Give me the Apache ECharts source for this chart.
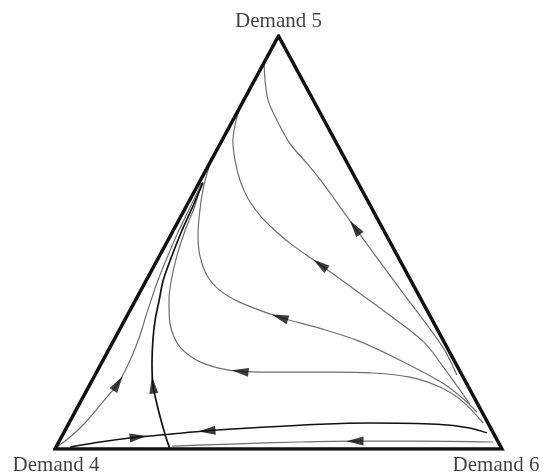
<!DOCTYPE html>
<html>
<head>
<meta charset="utf-8">
<script src="https://cdn.jsdelivr.net/npm/echarts@6/dist/echarts.min.js"></script>
<style>
  html, body { margin: 0; padding: 0; background: #fff; }
  #chart { width: 549px; height: 476px; }
</style>
</head>
<body>
<div id="chart"></div>
<script>
// simplex coordinates: x = % along the base (Demand 4 -> Demand 6), y = % of height (base -> Demand 5)
const corners = [[0, 0], [50, 100], [100, 0]];
const cornerNames = ['Demand 4', 'Demand 5', 'Demand 6'];

// trajectories, in the order the points were read
const flowA = [[46.8,93.2],[47.0,89.1],[47.7,84.3],[49.7,79.5],[52.6,73.9],[56.4,69.1],[59.5,65.0],[67.1,53.6],[77.4,38.4],[86.8,24.6],[89.9,17.9]];
const flowB = [[41.6,83.1],[40.5,79.5],[39.8,74.6],[40.3,69.8],[41.4,65.0],[43.2,60.6],[45.9,56.5],[49.2,52.9],[53.2,49.3],[59.3,44.7],[66.0,39.4],[74.9,32.4],[82.6,25.8],[87.7,18.6],[92.8,10.9]];
const flowC = [[34.9,69.8],[33.3,63.8],[32.4,57.7],[32.0,51.7],[32.4,46.9],[34.0,42.0],[36.9,38.4],[41.4,35.5],[50.3,31.9],[59.3,29.2],[67.6,26.3],[77.2,21.5],[86.8,15.9],[91.7,11.8],[94.4,8.9]];
const flowD = [[32.7,64.5],[31.3,58.9],[29.1,52.9],[27.3,46.9],[26.0,40.8],[25.5,36.0],[25.7,30.4],[28.0,24.6],[33.1,20.8],[41.4,18.8],[50.3,18.6],[61.5,18.6],[71.1,18.4],[79.4,17.4],[86.1,15.0],[91.1,11.6],[95.8,6.3]];
const flowFrom4 = [[0.4,0.5],[3.4,2.9],[6.7,6.3],[10.7,11.4],[14.1,15.9],[16.8,21.5],[19.0,27.5],[20.4,32.4],[21.5,36.0],[23.0,40.8],[25.3,46.9],[27.7,52.9],[30.4,58.9],[32.9,64.5]];
const separatrix = [[25.7,0],[24.8,2.9],[23.7,7.0],[22.6,11.8],[21.9,15.5],[21.7,20.8],[21.9,26.3],[22.4,31.2],[23.3,36.0],[24.2,40.8],[26.2,46.9],[28.4,52.9],[30.9,58.9],[33.1,64.5]];
const lowFlow = [[3.4,0.5],[10.1,1.7],[18.6,2.9],[25.7,3.6],[34.0,4.4],[43.6,5.1],[59.3,6.0],[70.5,6.3],[85.5,6.0],[92.8,5.1],[96.6,3.9]];
const baseFlow = [[26.2,0.7],[39.2,1.2],[54.8,1.7],[67.1,1.9],[81.7,1.9],[98.0,1.7]];

// arrows: [trajectory, point index, flow direction along the point list]
const arrows = [
  ['A', 7, -1], ['B', 9, -1], ['C', 8, -1], ['D', 9, -1],
  ['from4', 4, 1], ['sep', 4, 1], ['low', 2, 1], ['low', 4, -1], ['base', 3, -1]
];

const curves = { A: flowA, B: flowB, C: flowC, D: flowD, from4: flowFrom4, sep: separatrix, low: lowFlow, base: baseFlow };
const grey = '#6e6e6e';
const dark = '#111';
const styleOf = {
  A: [grey, 1.2], B: [grey, 1.2], C: [grey, 1.2], D: [grey, 1.2],
  from4: [grey, 1.2], sep: [dark, 1.7], low: [dark, 1.5], base: [grey, 1.2]
};

const chart = echarts.init(document.getElementById('chart'));

const curveSeries = Object.keys(curves).map(k => ({
  type: 'line',
  name: k,
  data: curves[k],
  smooth: 0.3,
  showSymbol: false,
  silent: true,
  z: 2,
  lineStyle: { color: styleOf[k][0], width: styleOf[k][1] }
}));

const labelPos = [
  { position: 'bottom', distance: 6, offset: [1, 0] },
  { position: 'top', distance: 4, offset: [0, 0] },
  { position: 'bottom', distance: 6, offset: [-6, 0] }
];

function buildOption(arrowData) {
  return {
    animation: false,
    grid: { left: 55, right: 47, top: 36, bottom: 27 },
    xAxis: { type: 'value', min: 0, max: 100, show: false },
    yAxis: { type: 'value', min: 0, max: 100, show: false },
    series: curveSeries.concat([
      {
        type: 'line',
        name: 'simplex',
        data: corners.concat([corners[0], corners[1]]),
        showSymbol: false,
        silent: true,
        z: 5,
        lineStyle: { color: '#111', width: 3.5, join: 'miter', miterLimit: 20 }
      },
      {
        type: 'scatter',
        name: 'arrows',
        symbol: 'path://M5,0L10,18L0,18Z',
        symbolSize: [9, 17],
        silent: true,
        z: 6,
        itemStyle: { color: '#0d0d0d' },
        data: arrowData
      },
      {
        type: 'scatter',
        name: 'corners',
        symbolSize: 0,
        silent: true,
        z: 7,
        data: corners.map((c, i) => ({
          value: c,
          label: Object.assign({
            show: true,
            formatter: cornerNames[i],
            fontFamily: 'Liberation Serif',
            fontSize: 21,
            color: '#111'
          }, labelPos[i])
        }))
      }
    ])
  };
}

chart.setOption(buildOption([]));

const arrowData = arrows.map(([k, i, dir]) => {
  const pts = curves[k];
  const a = chart.convertToPixel({ gridIndex: 0 }, pts[i - 1]);
  const b = chart.convertToPixel({ gridIndex: 0 }, pts[i + 1]);
  const dx = (b[0] - a[0]) * dir;
  const dy = (b[1] - a[1]) * dir;
  const deg = Math.atan2(-dy, dx) * 180 / Math.PI;
  return { value: pts[i], symbolRotate: deg - 90 };
});

chart.setOption(buildOption(arrowData));
</script>
</body>
</html>
